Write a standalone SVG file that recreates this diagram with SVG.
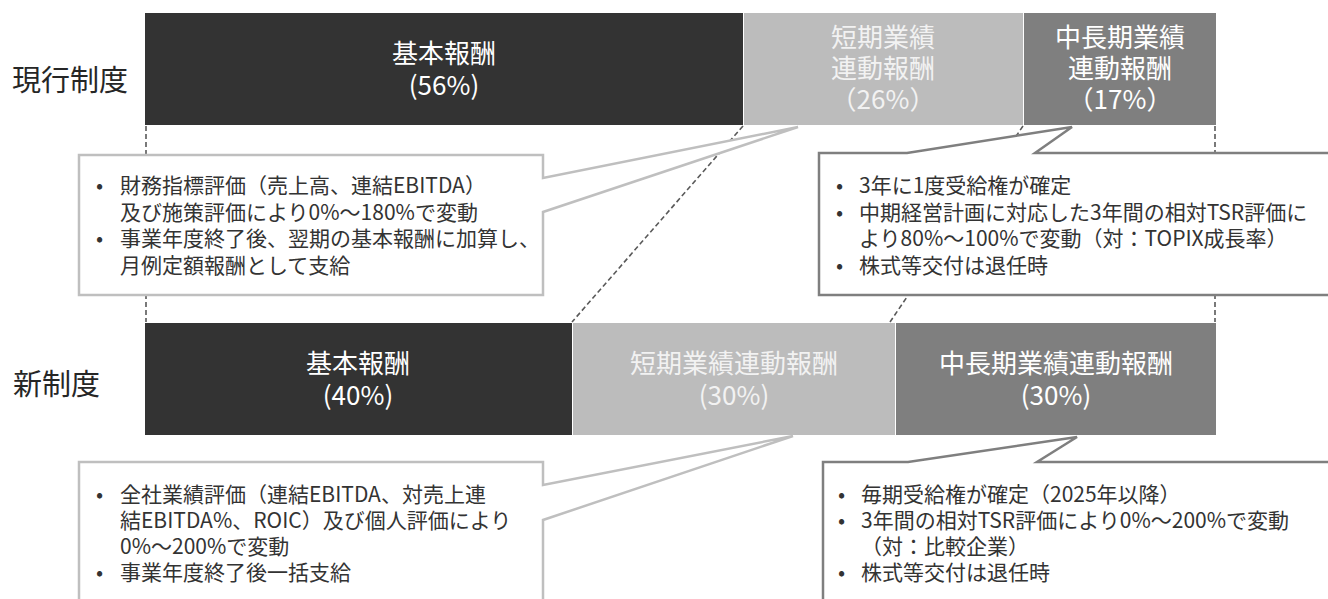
<svg xmlns="http://www.w3.org/2000/svg" width="1328" height="599" viewBox="0 0 1328 599">
<style>
text{font-family:"Noto Sans CJK JP","Noto Sans CJK SC",sans-serif}
.lbl{font-size:29px;fill:#262626}
.bt{font-size:26px;fill:#ffffff;text-anchor:middle}
.bl{font-size:26px;fill:#f2f2f2;text-anchor:middle}
.ct{font-size:21px;fill:#333333}
.dark{fill:#333333;stroke:#ffffff;stroke-width:1}
.light{fill:#bcbcbc;stroke:#ffffff;stroke-width:1}
.mid{fill:#7f7f7f;stroke:#ffffff;stroke-width:1}
.dash{stroke:#595959;stroke-width:1.6;stroke-dasharray:5 3;fill:none}
.cl{fill:#ffffff;stroke:#bfbfbf;stroke-width:2.5}
.cr{fill:#ffffff;stroke:#7f7f7f;stroke-width:2.5}
</style>

<g id="label-current"><text class="lbl" x="12" y="91">現行制度</text></g>
<g id="label-new"><text class="lbl" x="13" y="395">新制度</text></g>

<g id="cur-base">
<rect class="dark" x="144.5" y="12.5" width="599" height="113"/>
<text class="bt"><tspan x="444" y="63">基本報酬</tspan><tspan x="444" y="95">(56%)</tspan></text>
</g>
<g id="cur-short">
<rect class="light" x="743.5" y="12.5" width="280" height="113"/>
<text class="bl"><tspan x="883" y="47">短期業績</tspan><tspan x="883" y="78">連動報酬</tspan><tspan x="883" y="109">（26%）</tspan></text>
</g>
<g id="cur-long">
<rect class="mid" x="1023.5" y="12.5" width="193" height="113"/>
<text class="bt"><tspan x="1120" y="47">中長期業績</tspan><tspan x="1120" y="78">連動報酬</tspan><tspan x="1120" y="109">（17%）</tspan></text>
</g>

<g id="new-base">
<rect class="dark" x="144.5" y="322.5" width="428" height="113"/>
<text class="bt"><tspan x="358" y="373">基本報酬</tspan><tspan x="358" y="405">(40%)</tspan></text>
</g>
<g id="new-short">
<rect class="light" x="572.5" y="322.5" width="323" height="113"/>
<text class="bl"><tspan x="734" y="373">短期業績連動報酬</tspan><tspan x="734" y="405">(30%)</tspan></text>
</g>
<g id="new-long">
<rect class="mid" x="895.5" y="322.5" width="321" height="113"/>
<text class="bt"><tspan x="1056" y="373">中長期業績連動報酬</tspan><tspan x="1056" y="405">(30%)</tspan></text>
</g>

<g id="connectors">
<line class="dash" x1="146" y1="126" x2="146" y2="322"/>
<line class="dash" x1="743" y1="126" x2="572" y2="322"/>
<line class="dash" x1="1023" y1="126" x2="890" y2="322"/>
<line class="dash" x1="1215" y1="126" x2="1215" y2="322"/>
</g>

<g id="callout-cur-short">
<path class="cl" d="M79,155 H543 V178 L798,127 L543,212 V295 H79 Z"/>
<text class="ct"><tspan x="96" y="193">•</tspan><tspan x="120" y="193">財務指標評価（売上高、連結EBITDA）</tspan><tspan x="120" y="219.5">及び施策評価により0%～180%で変動</tspan><tspan x="96" y="246">•</tspan><tspan x="120" y="246">事業年度終了後、翌期の基本報酬に加算し、</tspan><tspan x="120" y="272.5">月例定額報酬として支給</tspan></text>
</g>

<g id="callout-cur-long">
<path class="cr" d="M819,153 H907 L1072,127 L1035,153 H1340 V295 H819 Z"/>
<text class="ct"><tspan x="836" y="193">•</tspan><tspan x="859" y="193">3年に1度受給権が確定</tspan><tspan x="836" y="219.5">•</tspan><tspan x="859" y="219.5">中期経営計画に対応した3年間の相対TSR評価に</tspan><tspan x="859" y="246">より80%～100%で変動（対：TOPIX成長率）</tspan><tspan x="836" y="272.5">•</tspan><tspan x="859" y="272.5">株式等交付は退任時</tspan></text>
</g>

<g id="callout-new-short">
<path class="cl" d="M79,462 H543 V485 L793,436 L543,520 V612 H79 Z"/>
<text class="ct"><tspan x="96" y="502">•</tspan><tspan x="120" y="502">全社業績評価（連結EBITDA、対売上連</tspan><tspan x="120" y="528">結EBITDA%、ROIC）及び個人評価により</tspan><tspan x="120" y="554">0%～200%で変動</tspan><tspan x="96" y="580">•</tspan><tspan x="120" y="580">事業年度終了後一括支給</tspan></text>
</g>

<g id="callout-new-long">
<path class="cr" d="M823,462 H908 L1077,437 L1037,462 H1340 V612 H823 Z"/>
<text class="ct"><tspan x="838" y="502">•</tspan><tspan x="861" y="502">毎期受給権が確定（2025年以降）</tspan><tspan x="838" y="528">•</tspan><tspan x="861" y="528">3年間の相対TSR評価により0%～200%で変動</tspan><tspan x="861" y="554">（対：比較企業）</tspan><tspan x="838" y="580">•</tspan><tspan x="861" y="580">株式等交付は退任時</tspan></text>
</g>
</svg>
